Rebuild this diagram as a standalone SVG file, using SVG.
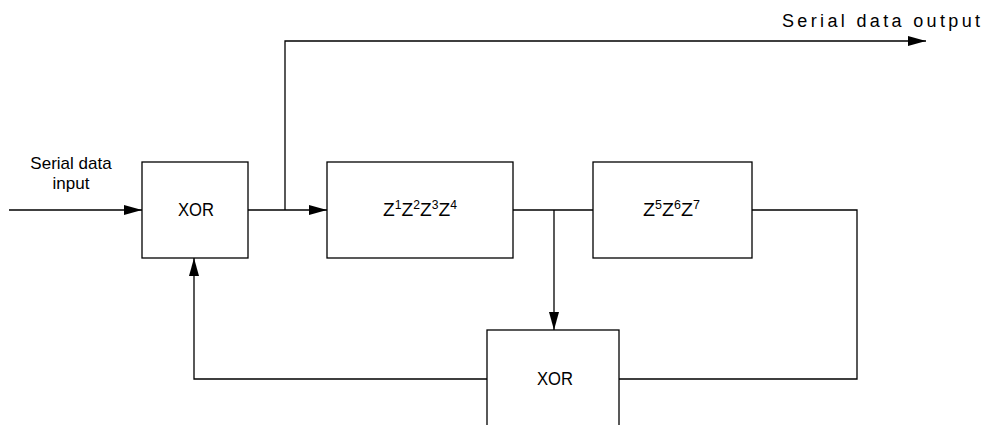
<svg xmlns="http://www.w3.org/2000/svg" width="984" height="425" viewBox="0 0 984 425">
<style>
.box{fill:#fff;stroke:#000;stroke-width:1.3}
.ln{fill:none;stroke:#000;stroke-width:1.3}
.t{font-family:"Liberation Sans",Arial,sans-serif;fill:#000}
</style>
<defs>
<marker id="ah" viewBox="0 0 18 10" refX="18" refY="5" markerWidth="18" markerHeight="10" markerUnits="userSpaceOnUse" orient="auto">
<path d="M0,0 L18,5 L0,10 Z" fill="#000"/>
</marker>
</defs>
<rect width="984" height="425" fill="#fff"/>
<g id="connectors">
<path class="ln" d="M9,210 H142" marker-end="url(#ah)"/>
<path class="ln" d="M248,210 H327" marker-end="url(#ah)"/>
<path class="ln" d="M285,210 V41 H926" marker-end="url(#ah)"/>
<path class="ln" d="M513,210 H593"/>
<path class="ln" d="M554,210 V330" marker-end="url(#ah)"/>
<path class="ln" d="M752,210 H857 V379 H619"/>
<path class="ln" d="M487,379 H194 V258" marker-end="url(#ah)"/>
</g>
<g id="label-input">
<text class="t" x="71" y="169" font-size="17" text-anchor="middle">Serial data</text>
<text class="t" x="71" y="189" font-size="17" text-anchor="middle">input</text>
</g>
<g id="label-output">
<text class="t" x="782" y="27" font-size="18" textLength="198" lengthAdjust="spacing">Serial data output</text>
</g>
<g id="xor1">
<rect class="box" x="142" y="162" width="106" height="96"/>
<text class="t" x="196" y="216" font-size="18" text-anchor="middle" textLength="36" lengthAdjust="spacingAndGlyphs">XOR</text>
</g>
<g id="z1to4">
<rect class="box" x="327" y="162" width="186" height="96"/>
<text class="t" x="383" y="216" font-size="19" textLength="74" lengthAdjust="spacingAndGlyphs">Z<tspan dy="-7" font-size="12">1</tspan><tspan dy="7">Z</tspan><tspan dy="-7" font-size="12">2</tspan><tspan dy="7">Z</tspan><tspan dy="-7" font-size="12">3</tspan><tspan dy="7">Z</tspan><tspan dy="-7" font-size="12">4</tspan></text>
</g>
<g id="z5to7">
<rect class="box" x="593" y="162" width="159" height="96"/>
<text class="t" x="643" y="216" font-size="19" textLength="57" lengthAdjust="spacingAndGlyphs">Z<tspan dy="-7" font-size="12">5</tspan><tspan dy="7">Z</tspan><tspan dy="-7" font-size="12">6</tspan><tspan dy="7">Z</tspan><tspan dy="-7" font-size="12">7</tspan></text>
</g>
<g id="xor2">
<rect class="box" x="487" y="330" width="132" height="110"/>
<text class="t" x="555" y="385" font-size="19" text-anchor="middle" textLength="36" lengthAdjust="spacingAndGlyphs">XOR</text>
</g>
</svg>
